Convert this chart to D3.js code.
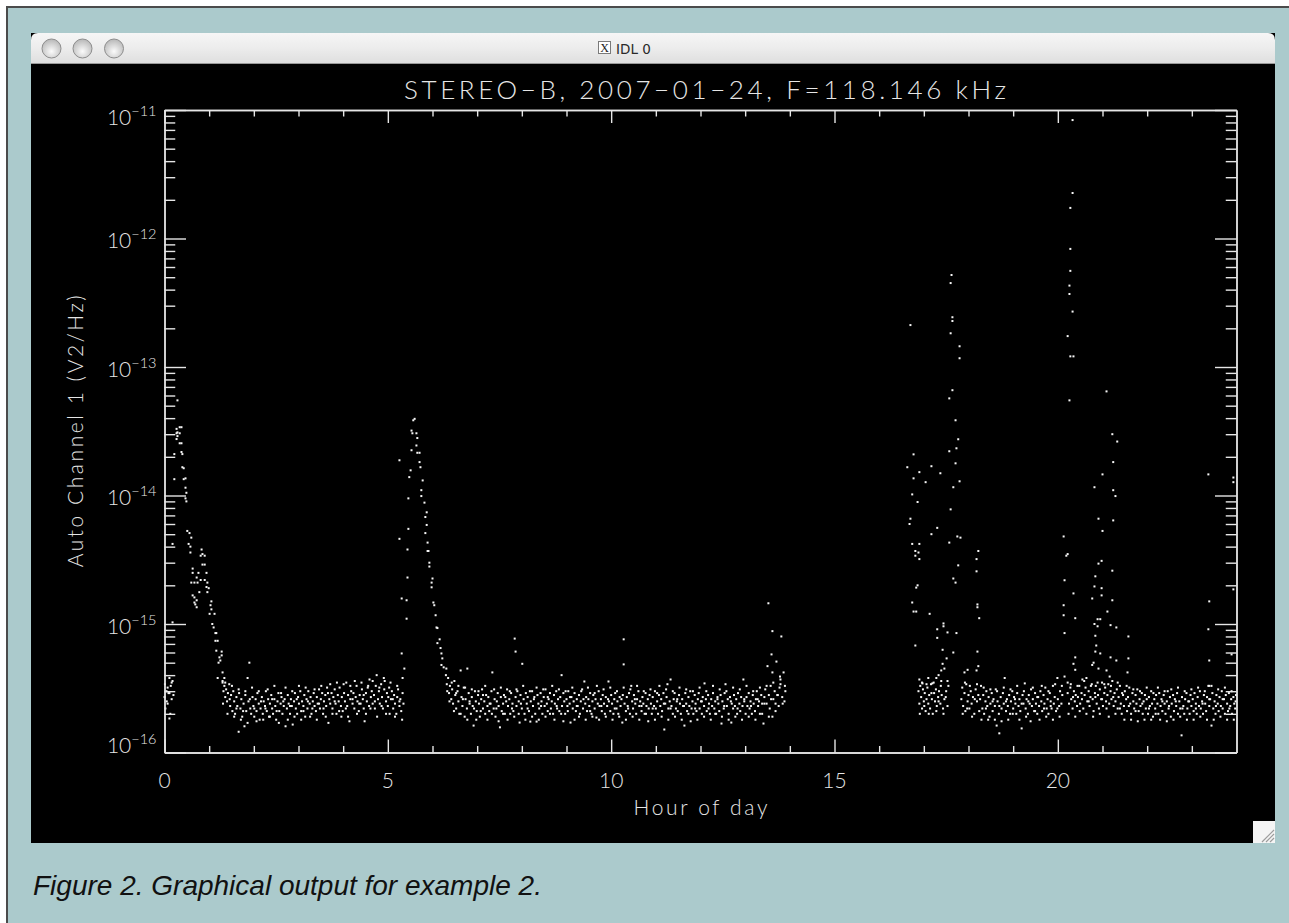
<!DOCTYPE html>
<html>
<head>
<meta charset="utf-8">
<script src="https://cdn.jsdelivr.net/npm/d3@7"></script>
<style>
  body { margin: 0; background: #fff; }
  svg { display: block; }
</style>
</head>
<body>
<svg id="page" width="1289" height="923"></svg>
<script>
// values are [hour of day, auto channel 1] with the power in units of 1e-16 V2/Hz
const UNIT = 1e-16;

const quiet0 = [[0,2.7],[0.01,3.4],[0.02,2.2],[0.045,3.0],[0.05,2.5],[0.07,3.2],[0.07,2.4],[0.09,2.9],[0.11,3.8],[0.11,2.9],
  [0.11,1.84],[0.13,2.0],[0.14,3.3],[0.16,3.5],[0.16,2.6],[0.18,3.6],[0.2,2.8]];

const decay0 = [[0.18,42],[0.18,10.3],[0.22,210],[0.22,134],[0.27,330],[0.27,305],[0.27,275],[0.29,310],[0.29,290],[0.29,550],
  [0.34,340],[0.34,305],[0.34,255],[0.38,340],[0.38,255],[0.38,218],[0.40,210],[0.40,166],[0.43,163],[0.43,134],
  [0.47,136],[0.47,115],[0.49,105],[0.47,95],[0.49,90],[0.51,53],[0.56,51],[0.60,47],[0.54,42],[0.58,40],
  [0.58,36],[0.83,38],[0.85,35],[0.81,34],[0.90,34],[0.85,29],[0.90,29],[0.63,27],[0.63,25],[0.76,25],
  [0.94,25],[0.72,23],[0.81,22],[0.90,22],[0.60,21],[0.67,21],[0.96,21],[0.74,21],[0.94,19.4],[0.99,19],
  [0.78,17.7],[0.96,17.7],[0.63,16.7],[0.67,16.1],[0.72,15.3],[0.67,14.7],[0.69,14.2],[0.72,13.5],[1.05,15],[1.03,14],
  [1.05,13],[1.01,12],[1.12,12],[1.07,10],[1.10,9.4],[1.14,8.5],[1.16,8.5],[1.14,7.4],[1.19,7.4],[1.16,6.2],
  [1.28,6.1],[1.23,5.5],[1.28,5.7],[1.21,5.0],[1.25,5.2],[1.19,3.8],[1.30,4.2],[1.34,3.8],[1.30,3.5]];

const quiet1 = [[1.30,3.6],[1.32,3.0],[1.34,3.3],[1.36,2.7],[1.38,3.1],[1.40,2.5],[1.42,2.9],[1.45,3.4],[1.47,2.3],[1.49,2.8],
  [1.52,2.1],[1.54,3.0],[1.56,2.5],[1.58,2.0],[1.61,2.7],[1.63,2.3],[1.66,1.45],[1.67,2.9],[1.70,2.2],[1.72,2.6],
  [1.74,1.9],[1.77,2.4],[1.79,1.6],[1.81,2.8],[1.83,2.1],[1.86,3.8],[1.88,2.5],[1.90,5.0],[1.92,2.2],[1.94,2.0],
  [1.97,2.7],[1.99,2.3],[2.01,1.9],[2.04,2.6],[2.06,2.1],[2.08,2.9],[2.11,2.4],[2.13,1.8],[2.15,2.2],[2.18,2.7],
  [2.20,2.0],[2.22,2.5],[2.25,2.3],[2.27,3.0],[2.29,2.1],[2.32,2.6],[2.34,1.9],[2.36,2.4],[2.39,2.8],[2.41,2.2],
  [2.43,2.0],[2.46,2.6],[2.48,2.3],[2.50,1.8],[2.53,2.5],[2.55,2.9],[2.57,2.1],[2.60,2.4],[2.62,2.7],[2.64,2.0],
  [2.67,2.3],[2.69,2.6],[2.71,1.6],[2.74,2.2],[2.76,2.8],[2.78,2.4],[2.81,2.0],[2.83,2.6],[2.85,2.3],[2.87,1.65],
  [2.90,2.5],[2.92,2.9],[2.94,2.2],[2.97,2.0],[2.99,2.7],[3.01,2.4],[3.04,3.0],[3.06,2.1],[3.08,2.5],[3.11,2.3],
  [3.13,2.8],[3.15,1.9],[3.18,2.6],[3.20,2.2],[3.22,3.0],[3.25,2.4],[3.27,2.7],[3.29,2.0],[3.32,2.5],[3.34,2.9],
  [3.36,2.3],[3.39,2.1],[3.41,2.7],[3.43,2.4],[3.46,3.1],[3.48,2.2],[3.50,2.6],[3.53,2.9],[3.55,2.0],[3.57,2.5],
  [3.60,2.8],[3.62,2.3],[3.64,3.2],[3.67,1.7],[3.69,2.6],[3.71,2.4],[3.74,2.9],[3.76,2.2],[3.78,2.7],[3.81,3.1],
  [3.83,2.4],[3.85,2.0],[3.88,2.8],[3.90,2.5],[3.92,3.2],[3.95,2.3],[3.97,2.7],[3.99,2.1],[4.02,2.9],[4.04,2.5],
  [4.07,3.5],[4.09,2.3],[4.11,2.8],[4.14,1.75],[4.16,2.6],[4.18,3.0],[4.21,2.4],[4.23,2.9],[4.25,2.2],[4.28,2.7],
  [4.30,3.3],[4.32,2.5],[4.35,2.1],[4.37,2.8],[4.39,2.4],[4.42,3.1],[4.44,2.6],[4.46,2.2],[4.48,1.75],[4.51,2.9],
  [4.53,2.5],[4.55,3.2],[4.58,2.3],[4.59,3.7],[4.62,2.7],[4.64,3.0],[4.66,2.4],[4.69,2.8],[4.71,2.2],[4.73,3.3],
  [4.75,4.0],[4.78,2.6],[4.80,3.0],[4.82,2.4],[4.85,3.4],[4.87,2.7],[4.89,2.2],[4.92,3.1],[4.93,3.6],[4.96,2.5],
  [4.98,2.9],[5.00,2.3],[5.03,3.2],[5.04,2.0],[5.07,2.6],[5.09,3.0],[5.12,2.2],[5.14,2.8],[5.16,2.4],[5.19,2.0],
  [5.21,2.7],[5.23,3.1],[5.26,2.3],[5.28,2.6],[5.30,2.1],[5.33,2.9],[5.35,2.4],
  [1.31,2.4],[1.36,3.5],[1.41,2.0],[1.46,2.6],[1.51,3.3],[1.56,1.9],[1.61,2.2],[1.66,3.1],[1.71,1.8],[1.76,2.1],
  [1.81,3.0],[1.86,1.7],[1.91,2.6],[1.96,3.2],[2.01,2.2],[2.06,1.75],[2.11,3.0],[2.16,2.5],[2.21,1.8],[2.26,2.2],
  [2.31,3.1],[2.36,1.9],[2.41,2.6],[2.46,3.3],[2.51,2.1],[2.56,1.7],[2.61,2.9],[2.66,2.5],[2.71,3.2],[2.76,1.8],
  [2.81,2.3],[2.86,3.0],[2.91,1.9],[2.96,2.6],[3.01,3.3],[3.06,1.8],[3.11,2.1],[3.16,3.2],[3.21,2.5],[3.26,1.9],
  [3.31,2.2],[3.36,3.1],[3.41,1.8],[3.46,2.4],[3.51,3.3],[3.56,2.2],[3.61,1.9],[3.66,2.9],[3.71,3.4],[3.76,2.0],
  [3.81,2.5],[3.86,3.5],[3.91,2.1],[3.96,1.9],[4.01,3.4],[4.06,2.2],[4.11,1.9],[4.16,3.3],[4.21,2.6],[4.26,3.6],
  [4.31,2.0],[4.36,2.4],[4.41,3.5],[4.46,2.8],[4.51,2.0],[4.56,3.3],[4.61,2.2],[4.66,3.6],[4.71,2.5],[4.76,1.9],
  [4.81,3.2],[4.86,2.3],[4.91,3.8],[4.96,2.0],[5.01,2.7],[5.06,3.5],[5.11,2.6],[5.16,1.9],[5.21,3.3],[5.26,2.5],[5.32,1.8]];

const burst2 = [[5.26,188],[5.26,46],[5.31,15.8],[5.31,5.9],[5.37,4.5],[5.33,3.8],[5.42,11],[5.42,15.3],[5.44,23],[5.44,38],
  [5.46,55],[5.46,95],[5.48,139],[5.51,157],[5.53,225],[5.53,320],[5.57,385],[5.60,395],[5.55,305],[5.64,305],
  [5.66,280],[5.64,245],[5.66,215],[5.71,215],[5.71,182],[5.73,166],[5.78,131],[5.75,110],[5.75,99],[5.82,88],
  [5.87,74],[5.84,68],[5.87,59],[5.84,51],[5.89,43],[5.89,37],[5.91,37],[5.93,30],[5.93,28],[6.00,22.6],
  [5.98,21],[5.98,19.3],[6.02,14.7],[6.04,14],[6.07,11.7],[6.09,9.4],[6.11,9.3],[6.16,7.6],[6.11,7.1],[6.18,6.5],
  [6.20,5.9],[6.22,5.4],[6.20,4.8],[6.25,4.6],[6.31,4.5]];

const quiet2 = [[6.30,4.0],[6.32,3.4],[6.35,3.8],[6.37,2.9],[6.39,3.3],[6.42,2.6],[6.44,3.1],[6.46,2.4],[6.49,3.6],[6.51,2.8],
  [6.53,2.2],[6.56,3.0],[6.58,2.5],[6.60,2.0],[6.63,4.35],[6.65,2.7],[6.67,2.3],[6.70,3.2],[6.72,1.9],[6.74,2.6],
  [6.77,2.2],[6.78,4.5],[6.81,2.9],[6.83,2.4],[6.86,2.0],[6.88,2.7],[6.90,2.3],[6.92,1.62],[6.95,3.0],[6.97,2.5],
  [6.99,2.1],[7.02,2.8],[7.04,2.4],[7.06,1.9],[7.09,2.6],[7.11,3.1],[7.13,2.2],[7.16,2.5],[7.18,2.0],[7.20,2.8],
  [7.23,2.3],[7.25,2.7],[7.27,2.1],[7.30,2.4],[7.32,3.0],[7.34,4.2],[7.37,2.2],[7.39,2.6],[7.41,1.9],[7.44,2.5],
  [7.46,2.9],[7.48,2.3],[7.51,1.57],[7.53,2.7],[7.55,2.1],[7.58,2.4],[7.60,2.8],[7.62,2.0],[7.65,2.5],[7.67,3.1],
  [7.69,2.3],[7.72,2.6],[7.74,2.0],[7.76,2.9],[7.79,2.4],[7.81,2.1],[7.84,7.7],[7.86,6.1],[7.86,2.7],[7.88,2.3],
  [7.90,3.0],[7.93,2.5],[7.95,1.71],[7.97,2.8],[8.00,2.2],[8.01,4.9],[8.04,2.6],[8.06,2.0],[8.09,2.9],[8.11,2.4],
  [8.13,2.7],[8.16,2.1],[8.19,1.74],[8.20,2.5],[8.23,3.0],[8.25,2.3],[8.27,2.6],[8.30,2.0],[8.33,1.74],[8.35,2.8],
  [8.37,2.4],[8.39,2.2],[8.42,2.9],[8.44,2.5],[8.46,2.0],[8.49,2.7],[8.51,2.3],[8.53,3.1],[8.56,2.4],[8.58,2.1],
  [8.60,2.6],[8.63,2.9],[8.65,2.2],[8.67,2.5],[8.70,2.0],[8.72,2.8],[8.74,2.4],[8.77,3.0],[8.79,2.2],[8.81,2.6],
  [8.84,2.1],[8.86,2.7],[8.89,4.0],[8.90,2.3],[8.93,2.9],[8.95,2.5],[8.97,2.0],[9.00,2.6],[9.02,2.3],[9.04,3.0],
  [9.07,2.4],[9.09,1.71],[9.11,2.7],[9.14,2.2],[9.16,2.5],[9.18,2.9],[9.21,2.1],[9.23,2.6],[9.25,2.3],[9.28,2.8],
  [9.30,2.0],[9.32,2.5],[9.35,3.1],[9.37,2.2],[9.40,3.57],[9.42,2.4],[9.44,2.7],[9.46,2.1],[9.49,2.6],[9.51,2.3],
  [9.53,2.9],[9.56,2.0],[9.58,2.5],[9.60,2.8],[9.63,2.2],[9.65,2.6],[9.67,1.87],[9.70,2.4],[9.72,3.0],[9.74,2.3],
  [9.77,2.6],[9.79,2.1],[9.81,2.8],[9.84,2.4],[9.86,2.0],[9.88,2.7],[9.91,2.3],[9.94,3.57],[9.95,2.5],[9.98,2.1],
  [10.00,2.8],[10.02,2.4],[10.05,2.0],[10.07,2.6],[10.09,2.9],[10.12,2.2],[10.14,2.5],[10.16,2.0],[10.19,2.7],[10.21,2.3],
  [10.25,1.71],[10.26,2.8],[10.28,7.6],[10.28,4.85],[10.30,2.4],[10.33,2.1],[10.35,2.7],[10.37,2.3],[10.40,2.9],[10.42,2.0],
  [10.45,3.3],[10.47,2.5],[10.49,2.2],[10.51,2.8],[10.54,2.4],[10.56,2.0],[10.58,2.6],[10.61,3.0],[10.63,2.3],[10.65,2.5],
  [10.68,2.1],[10.70,2.7],[10.72,2.4],[10.75,2.0],[10.77,2.9],[10.79,2.3],[10.82,2.6],[10.84,2.2],[10.86,2.8],[10.89,2.4],
  [10.91,2.0],[10.93,2.7],[10.96,2.3],[10.98,3.0],[11.00,2.2],[11.03,2.5],[11.05,2.0],[11.07,2.8],[11.10,2.3],[11.12,2.6],
  [11.14,2.1],[11.17,2.9],[11.19,1.51],[11.21,2.4],[11.24,2.7],[11.26,3.4],[11.28,2.2],[11.31,2.5],[11.33,3.7],[11.35,2.3],
  [11.38,2.0],[11.40,2.6],[11.42,2.9],[11.45,2.2],[11.47,2.5],[11.49,2.1],[11.52,2.8],[11.54,2.4],[11.56,2.0],[11.59,2.6],
  [11.61,2.3],[11.64,1.62],[11.66,2.9],[11.68,2.4],[11.70,2.1],[11.73,2.7],[11.75,2.3],[11.77,3.0],[11.80,2.2],[11.82,2.5],
  [11.84,2.0],[11.87,2.8],[11.89,2.4],[11.91,2.1],[11.94,2.6],[11.96,2.9],[11.98,2.2],[12.01,2.5],[12.03,2.0],[12.05,2.7],
  [12.08,2.3],[12.09,3.45],[12.12,2.6],[12.14,2.1],[12.17,2.8],[12.19,2.4],[12.21,2.0],[12.24,2.6],[12.26,2.3],[12.28,2.9],
  [12.31,2.2],[12.33,2.5],[12.35,2.0],[12.38,2.7],[12.40,2.4],[12.42,2.1],[12.45,2.8],[12.47,1.68],[12.49,2.5],[12.52,2.2],
  [12.54,2.9],[12.56,3.4],[12.59,2.3],[12.61,2.6],[12.63,2.0],[12.66,2.7],[12.69,1.71],[12.70,2.4],[12.73,2.2],[12.75,2.8],
  [12.77,2.3],[12.80,2.6],[12.82,2.0],[12.84,2.9],[12.87,2.4],[12.89,2.1],[12.91,2.7],[12.94,2.3],[12.96,3.7],[12.98,2.5],
  [13.01,2.0],[13.03,2.7],[13.05,2.3],[13.08,2.9],[13.10,2.2],[13.12,2.5],[13.15,2.0],[13.17,2.8],[13.19,2.4],[13.22,2.1],
  [13.24,2.6],[13.26,3.0],[13.29,2.3],[13.31,2.5],[13.33,2.0],[13.36,2.8],[13.38,2.4],[13.41,1.68],[13.43,2.7],[13.45,3.1],
  [13.48,2.4],[13.50,4.7],[13.52,14.5],[13.53,2.8],[13.55,2.2],[13.57,3.3],[13.59,5.8],[13.61,8.8],[13.61,4.2],[13.61,1.9],
  [13.63,2.6],[13.66,3.0],[13.68,2.4],[13.70,5.1],[13.72,2.8],[13.75,2.3],[13.77,3.2],[13.79,3.7],[13.79,3.4],[13.81,8.0],
  [13.83,2.7],[13.86,4.2],[13.88,2.5],[13.90,3.0],
  [6.33,3.0],[6.38,2.5],[6.43,3.5],[6.48,2.1],[6.53,2.9],[6.58,3.3],[6.63,2.0],[6.68,2.6],[6.73,3.2],[6.78,1.8],
  [6.83,2.5],[6.88,3.1],[6.93,2.2],[6.98,1.8],[7.03,3.0],[7.08,2.1],[7.13,2.8],[7.18,3.3],[7.23,1.8],[7.28,2.4],
  [7.33,2.0],[7.38,3.1],[7.43,2.2],[7.48,1.75],[7.53,3.2],[7.58,2.0],[7.63,2.7],[7.68,1.8],[7.73,3.0],[7.78,2.2],
  [7.83,1.9],[7.88,3.1],[7.93,2.0],[7.98,2.4],[8.03,3.3],[8.08,1.8],[8.13,2.2],[8.18,3.0],[8.23,1.9],[8.28,2.7],
  [8.33,3.2],[8.38,1.8],[8.43,2.3],[8.48,3.1],[8.53,1.9],[8.58,2.7],[8.63,2.0],[8.68,3.3],[8.73,1.8],[8.78,2.3],
  [8.83,3.1],[8.88,2.0],[8.93,1.75],[8.98,3.0],[9.03,2.1],[9.08,2.7],[9.13,3.2],[9.18,1.8],[9.23,2.3],[9.28,1.9],
  [9.33,3.0],[9.38,2.6],[9.43,1.8],[9.48,3.2],[9.53,2.1],[9.58,1.9],[9.63,2.9],[9.68,3.3],[9.73,1.8],[9.78,2.3],
  [9.83,3.1],[9.88,1.9],[9.93,2.6],[9.98,3.2],[10.03,1.8],[10.08,2.2],[10.13,3.0],[10.18,1.9],[10.23,2.6],[10.28,3.2],
  [10.33,1.8],[10.38,2.2],[10.43,3.1],[10.48,1.9],[10.53,2.6],[10.58,3.3],[10.63,1.8],[10.68,2.3],[10.73,3.0],[10.78,2.0],
  [10.83,1.75],[10.88,3.1],[10.93,2.2],[10.98,1.8],[11.03,2.9],[11.08,3.3],[11.13,1.9],[11.18,2.4],[11.23,3.1],[11.28,1.8],
  [11.33,2.2],[11.38,3.0],[11.43,1.9],[11.48,2.6],[11.53,3.2],[11.58,1.8],[11.63,2.3],[11.68,3.1],[11.73,2.0],[11.78,1.75],
  [11.83,3.0],[11.88,2.2],[11.93,1.8],[11.98,3.2],[12.03,2.5],[12.08,1.9],[12.13,3.0],[12.18,2.2],[12.23,1.8],[12.28,3.3],
  [12.33,2.0],[12.38,2.6],[12.43,3.1],[12.48,1.9],[12.53,2.3],[12.58,3.0],[12.63,1.8],[12.68,2.5],[12.73,3.2],[12.78,1.9],
  [12.83,2.2],[12.88,3.1],[12.93,1.8],[12.98,2.6],[13.03,3.3],[13.08,1.9],[13.13,2.3],[13.18,3.0],[13.23,1.8],[13.28,2.6],
  [13.33,3.2],[13.38,2.0],[13.43,2.4],[13.48,3.3],[13.53,1.9],[13.58,2.6],[13.63,3.5],[13.68,2.1],[13.73,2.8],[13.78,3.9],
  [13.84,2.4],[13.89,3.3]];

const burst3 = [[16.70,2120],[16.63,166],[16.77,209],[16.77,136],[16.90,152],[17.04,127],[17.17,169],[17.37,149],[16.74,102],[16.86,89],
  [16.70,66],[16.68,60],[16.74,42],[16.90,42],[16.81,37],[16.88,36],[16.81,34],[16.90,32],[17.30,56],[17.17,50],
  [16.86,20],[16.83,19.2],[16.74,14.7],[16.77,12.5],[16.83,12.5],[17.13,12],[16.81,6.8],[17.44,10.1],[17.44,9.6],[17.30,9.1],
  [17.53,8.6],[17.30,7.8],[17.42,6.3],[17.51,5.4],[17.42,4.9],[17.39,4.35],[17.46,4.5],[17.33,4.0],[17.28,3.8],[16.90,3.7],
  [17.10,3.8],[17.39,3.6],[17.53,3.6],[16.97,3.45],[17.19,3.45],
  [16.88,3.0],[16.90,2.4],[16.92,3.3],[16.94,2.7],[16.96,2.2],[16.98,3.1],[17.00,2.5],[17.02,2.9],[17.04,2.1],[17.06,2.6],
  [17.08,3.2],[17.10,2.4],[17.12,2.8],[17.14,2.2],[17.16,3.4],[17.18,2.6],[17.20,2.0],[17.23,2.9],[17.25,2.5],[17.27,3.1],
  [17.29,2.3],[17.32,2.7],[17.34,3.0],[17.37,2.4],[17.40,2.8],[17.43,2.2],[17.46,2.6],[17.50,3.0],[17.53,2.3],
  [16.91,2.0],[16.96,3.5],[17.01,2.3],[17.06,3.4],[17.11,2.0],[17.17,2.9],[17.22,3.5],[17.28,2.1],[17.33,2.5],[17.38,3.3],
  [17.44,2.0],[17.49,2.7],[17.55,3.3],
  [17.62,5200],[17.60,4500],[17.64,2440],[17.64,2280],[17.60,1830],[17.80,1450],[17.80,1170],[17.64,660],[17.57,570],[17.71,385],
  [17.77,274],[17.73,233],[17.57,221],[17.71,178],[17.80,129],[17.66,116],[17.60,78],[17.75,48],[17.82,47],[17.57,43],
  [17.77,28.6],[17.66,22.6],[17.71,21],[17.73,8.5],[17.66,6.0],
  [18.22,37],[18.18,32],[18.18,25.7],[18.20,14.2],[18.20,13.5],[18.24,11.1],[18.20,6.1],[18.22,4.7],[18.18,4.35],[17.98,4.4],
  [17.91,4.2]];

const quiet3 = [[17.84,2.6],[17.86,3.2],[17.88,2.3],[17.91,2.9],[17.93,2.1],[17.95,3.4],[17.98,2.5],[18.00,2.8],[18.02,2.2],[18.05,3.0],
  [18.07,2.4],[18.10,2.7],[18.13,2.0],[18.16,3.1],[18.19,2.5],[18.22,2.8],
  [18.26,2.6],[18.28,3.3],[18.31,2.2],[18.33,2.8],[18.35,2.0],[18.38,2.5],[18.40,3.0],[18.42,2.3],[18.45,2.7],[18.47,1.9],
  [18.49,2.4],[18.52,2.9],[18.54,2.1],[18.56,2.6],[18.59,2.3],[18.61,3.1],[18.63,1.62],[18.65,2.5],[18.68,2.0],[18.69,1.41],
  [18.72,2.7],[18.74,2.2],[18.77,2.9],[18.79,2.4],[18.81,3.8],[18.84,2.1],[18.86,2.6],[18.88,2.3],[18.91,2.8],[18.93,2.0],
  [18.95,2.5],[18.98,3.0],[19.00,2.2],[19.02,2.7],[19.05,2.4],[19.07,2.0],[19.09,2.9],[19.12,2.3],[19.14,2.6],[19.16,2.1],
  [19.19,1.54],[19.21,2.8],[19.23,2.4],[19.26,3.45],[19.28,2.2],[19.30,2.6],[19.33,2.0],[19.35,2.8],[19.37,2.4],[19.40,3.1],
  [19.42,2.3],[19.44,2.6],[19.47,2.1],[19.49,2.9],[19.51,2.4],[19.54,2.0],[19.56,2.7],[19.58,2.3],[19.61,3.0],[19.63,2.5],
  [19.65,2.1],[19.68,2.8],[19.70,2.4],[19.72,3.2],[19.75,2.2],[19.77,2.6],[19.79,2.0],[19.82,2.9],[19.84,2.5],[19.86,2.2],
  [19.89,3.3],[19.91,2.4],[19.93,2.7],[19.96,2.1],[19.99,3.8],[20.00,2.6],[20.03,2.3],[20.05,3.0],[20.08,2.4],[20.10,2.8],
  [17.87,2.0],[17.92,3.5],[17.97,2.2],[18.03,3.3],[18.08,1.9],[18.14,2.6],[18.19,3.4],[18.24,2.1],
  [18.29,1.8],[18.34,3.2],[18.39,2.2],[18.44,1.8],[18.49,3.1],[18.54,2.5],[18.59,1.8],[18.64,3.0],[18.69,2.3],[18.74,1.75],
  [18.79,3.2],[18.84,2.5],[18.89,1.8],[18.94,3.1],[18.99,2.0],[19.04,2.6],[19.09,3.3],[19.14,1.8],[19.19,2.4],[19.24,3.0],
  [19.29,1.9],[19.34,2.5],[19.39,1.75],[19.44,3.2],[19.49,2.1],[19.54,2.7],[19.59,1.8],[19.64,3.3],[19.69,2.2],[19.74,1.9],
  [19.79,3.0],[19.84,2.3],[19.89,1.8],[19.94,3.4],[19.99,2.2],[20.04,1.9],[20.09,3.3]];

const burst4 = [[20.33,83500],[20.33,22600],[20.28,17300],[20.28,8300],[20.28,5600],[20.26,4300],[20.26,3700],[20.33,2700],[20.22,1740],[20.28,1210],
  [20.35,1210],[20.26,550],[20.13,48],[20.22,35],[20.19,34],[20.15,21.9],[20.35,17.3],[20.13,14],[20.13,11.7],[20.39,11.1],
  [20.15,8.5],[20.39,5.5],[20.35,4.9],[20.39,4.4],[20.15,3.9],[20.22,3.5],
  [21.09,646],[21.22,300],[21.33,263],[21.24,182],[21.00,146],[20.82,116],[21.24,110],[21.29,99],[20.91,66],[21.24,64],
  [21.00,53],[20.98,31],[20.91,29.5],[21.22,26],[20.84,23.5],[20.82,19.6],[20.98,19],[20.98,16.7],[20.77,15.8],[21.22,15.3],
  [21.11,12.5],[20.89,10.9],[20.95,10.9],[21.18,9.8],[20.82,10],[20.89,9.6],[21.31,9.4],[20.84,8.1],[21.58,8.0],[20.86,6.8],
  [20.84,6.1],[20.95,5.9],[21.18,5.5],[21.31,5.2],[21.58,5.4],[20.80,5.0],[20.77,4.8],[20.91,4.5],[21.09,4.35],[21.56,4.2],
  [21.16,3.9],[20.64,3.8],[20.55,3.7],
  [23.37,146],[23.93,138],[23.93,127],[23.93,18.6],[23.39,15],[23.37,9.1],[23.89,5.8],[23.39,5.2],[23.39,3.3]];

const quiet4 = [[20.22,2.9],[20.25,2.4],[20.28,3.2],[20.30,2.6],[20.33,2.2],[20.36,3.0],[20.38,2.5],[20.40,2.8],[20.43,2.3],
  [20.45,2.7],[20.48,3.3],[20.50,2.4],[20.53,2.9],[20.57,2.2],[20.60,2.8],[20.62,3.2],[20.66,2.5],
  [20.69,3.0],[20.71,2.3],[20.73,2.7],[20.76,3.4],[20.78,2.6],[20.80,2.1],[20.83,2.9],[20.85,3.3],[20.87,2.4],[20.90,2.8],
  [20.92,2.2],[20.94,3.1],[20.97,2.6],[20.99,3.5],[21.01,2.3],[21.04,2.9],[21.06,3.2],[21.08,2.5],[21.11,2.8],[21.13,3.4],
  [21.15,2.4],[21.18,3.0],[21.20,2.6],[21.22,3.6],[21.25,2.3],[21.27,2.9],[21.29,2.5],[21.32,3.1],[21.34,2.2],[21.36,2.7],
  [21.39,3.3],[21.41,2.4],[21.43,2.0],[21.46,2.8],[21.48,2.3],[21.50,3.0],[21.53,2.6],[21.55,2.1],[21.57,2.7],[21.60,3.2],
  [21.62,2.4],[21.64,2.0],[21.67,2.9],[21.69,2.5],[21.71,2.2],[21.74,2.8],[21.76,2.4],[21.78,3.1],[21.81,2.1],[21.83,2.6],
  [21.85,2.3],[21.88,2.9],[21.90,2.0],[21.92,2.5],[21.95,2.8],[21.97,2.2],[21.99,2.6],[22.02,2.0],[22.04,2.7],[22.06,2.3],
  [22.09,3.0],[22.11,2.4],[22.13,1.9],[22.16,2.6],[22.18,2.2],[22.20,2.8],[22.23,2.4],[22.25,2.0],[22.27,2.9],[22.30,2.3],
  [22.32,2.6],[22.34,2.1],[22.37,2.8],[22.39,2.4],[22.41,2.0],[22.44,2.5],[22.46,3.0],[22.48,2.2],[22.51,2.7],[22.53,1.9],
  [22.55,2.4],[22.58,2.8],[22.60,2.1],[22.62,2.6],[22.65,2.3],[22.67,2.9],[22.69,2.0],[22.72,2.5],[22.74,2.2],[22.77,1.36],
  [22.78,2.7],[22.81,2.3],[22.83,2.0],[22.85,2.6],[22.88,2.9],[22.90,2.2],[22.92,2.5],[22.95,2.0],[22.97,2.8],[22.99,2.3],
  [23.02,2.6],[23.04,2.1],[23.06,2.9],[23.09,2.4],[23.11,2.0],[23.13,2.7],[23.16,2.3],[23.18,3.0],[23.20,2.2],[23.23,2.5],
  [23.25,2.0],[23.27,2.8],[23.30,2.4],[23.32,2.1],[23.34,2.7],[23.37,3.3],[23.39,2.3],[23.41,2.6],[23.44,1.62],[23.46,2.9],
  [23.48,2.2],[23.51,2.5],[23.53,2.0],[23.55,2.8],[23.58,2.4],[23.60,2.1],[23.62,2.7],[23.65,2.3],[23.67,3.0],[23.69,2.2],
  [23.72,2.6],[23.74,2.0],[23.76,2.8],[23.79,2.4],[23.81,2.1],[23.83,2.9],[23.86,2.3],[23.88,2.6],[23.90,2.0],[23.93,2.7],
  [23.95,2.4],[23.97,2.2],[23.99,2.8],
  [20.24,2.0],[20.29,3.4],[20.34,2.7],[20.39,1.9],[20.44,3.3],[20.49,2.1],[20.54,2.6],[20.59,3.6],[20.64,2.0],[20.69,2.5],
  [20.74,3.3],[20.79,1.9],[20.84,2.7],[20.89,3.5],[20.94,2.0],[20.99,2.6],[21.04,3.4],[21.09,2.2],[21.14,1.9],[21.19,3.3],
  [21.24,2.7],[21.29,2.0],[21.34,3.5],[21.39,2.2],[21.44,2.9],[21.49,1.8],[21.54,3.3],[21.59,2.3],[21.64,1.8],[21.69,3.1],
  [21.74,2.1],[21.79,1.75],[21.84,3.0],[21.89,2.4],[21.94,1.8],[21.99,3.2],[22.04,2.2],[22.09,1.8],[22.14,2.9],[22.19,2.0],
  [22.24,3.2],[22.29,1.8],[22.34,2.5],[22.39,3.0],[22.44,1.75],[22.49,2.3],[22.54,3.1],[22.59,1.8],[22.64,2.5],[22.69,3.2],
  [22.74,1.9],[22.79,2.2],[22.84,3.0],[22.89,1.8],[22.94,2.5],[22.99,3.1],[23.04,1.8],[23.09,2.2],[23.14,3.2],[23.19,1.9],
  [23.24,2.4],[23.29,3.0],[23.34,1.8],[23.39,2.6],[23.44,3.3],[23.49,1.8],[23.54,2.3],[23.59,3.1],[23.64,1.9],[23.69,2.6],
  [23.74,3.2],[23.79,1.8],[23.84,2.2],[23.89,3.0],[23.94,1.8],[23.98,2.5]];

// axis ticks
const xMajor = [0, 5, 10, 15, 20];
const xMinor = [1, 2, 3, 4, 6, 7, 8, 9, 11, 12, 13, 14, 16, 17, 18, 19, 21, 22, 23];
const yDecades = [-16, -15, -14, -13, -12, -11];

const titleText = "STEREO\u2212B, 2007\u221201\u221224, F=118.146 kHz";
const xTitle = "Hour of day";
const yTitle = "Auto Channel 1 (V2/Hz)";
const caption = "Figure 2. Graphical output for example 2.";

const W = 1289, H = 923;
const svg = d3.select("#page");
const defs = svg.append("defs");

// ---- page and frame ----
svg.append("rect").attr("width", W).attr("height", H).attr("fill", "#fff");
svg.append("rect").attr("x", 6).attr("y", 6).attr("width", W - 6).attr("height", H - 6).attr("fill", "#4b4b4b");
svg.append("rect").attr("x", 8).attr("y", 8).attr("width", W - 8).attr("height", H - 8).attr("fill", "#abcacc");

// ---- X11 window ----
const win = { x: 31, y: 33, w: 1244, h: 810, bar: 31 };
svg.append("rect").attr("x", win.x).attr("y", win.y).attr("width", win.w).attr("height", win.h).attr("fill", "#000");

const barGrad = defs.append("linearGradient").attr("id", "bar").attr("x1", 0).attr("y1", 0).attr("x2", 0).attr("y2", 1);
barGrad.append("stop").attr("offset", "0%").attr("stop-color", "#f6f6f6");
barGrad.append("stop").attr("offset", "50%").attr("stop-color", "#ececec");
barGrad.append("stop").attr("offset", "100%").attr("stop-color", "#dedede");

const r = 7;
svg.append("path")
  .attr("d", `M${win.x},${win.y + win.bar} V${win.y + r} Q${win.x},${win.y} ${win.x + r},${win.y} ` +
             `H${win.x + win.w - r} Q${win.x + win.w},${win.y} ${win.x + win.w},${win.y + r} V${win.y + win.bar} Z`)
  .attr("fill", "url(#bar)");
svg.append("line").attr("x1", win.x).attr("x2", win.x + win.w)
  .attr("y1", win.y + win.bar - 0.5).attr("y2", win.y + win.bar - 0.5)
  .attr("stroke", "#9a9a9a");

// window buttons (inactive, grey)
const btnGrad = defs.append("radialGradient").attr("id", "btn").attr("cx", "50%").attr("cy", "65%").attr("r", "60%");
btnGrad.append("stop").attr("offset", "0%").attr("stop-color", "#fbfbfb");
btnGrad.append("stop").attr("offset", "100%").attr("stop-color", "#bcbcbc");
[51.5, 82.5, 114].forEach(cx => {
  svg.append("circle").attr("cx", cx).attr("cy", 48.5).attr("r", 9.5)
    .attr("fill", "url(#btn)").attr("stroke", "#8d8d8d").attr("stroke-width", 1);
});

// window title with the X icon
svg.append("rect").attr("x", 598.5).attr("y", 41.5).attr("width", 12).attr("height", 12)
  .attr("fill", "#fff").attr("stroke", "#7a7a7a");
svg.append("text").attr("x", 604.5).attr("y", 52).attr("text-anchor", "middle")
  .attr("font-family", "Liberation Serif, serif").attr("font-size", 12).attr("fill", "#222").text("X");
svg.append("text").attr("x", 616).attr("y", 53.5)
  .attr("font-family", "DejaVu Sans, sans-serif").attr("font-size", 13.5).attr("fill", "#2a2a2a").text("IDL 0");

// resize grip
svg.append("rect").attr("x", 1253).attr("y", 821).attr("width", 22).attr("height", 22).attr("fill", "#f4f4f4");
[[1262, 842, 1274, 830], [1266, 842, 1274, 834], [1270, 842, 1274, 838]].forEach(l => {
  svg.append("line").attr("x1", l[0]).attr("y1", l[1]).attr("x2", l[2]).attr("y2", l[3])
    .attr("stroke", "#9c9c9c").attr("stroke-width", 1.2);
});

// caption under the window
svg.append("text").attr("x", 33).attr("y", 895)
  .attr("font-family", "Liberation Sans, Arial, sans-serif").attr("font-style", "italic")
  .attr("font-size", 28).attr("fill", "#111").text(caption);

// ---- the IDL plot ----
const plot = { left: 164.5, right: 1236.5, top: 110, bottom: 752.5 };
const ink = "#e6e6e6";
const font = "Lato, 'DejaVu Sans', sans-serif";

const x = d3.scaleLinear().domain([0, 24]).range([plot.left, plot.right]);
const y = d3.scaleLog().domain([1e-16, 1e-11]).range([plot.bottom, plot.top]);

const g = svg.append("g");

// data points
const allPoints = [].concat(quiet0, decay0, quiet1, burst2, quiet2, burst3, quiet3, burst4, quiet4);
g.append("g").selectAll("rect")
  .data(allPoints)
  .join("rect")
  .attr("x", d => x(d[0]) - 1)
  .attr("y", d => y(d[1] * UNIT) - 1)
  .attr("width", 2)
  .attr("height", 2)
  .attr("fill", "#f6f6f6");

// minor y ticks 2..9 in every decade
const yMinor = [];
yDecades.slice(0, -1).forEach(e => {
  for (let m = 2; m <= 9; m++) yMinor.push(m * Math.pow(10, e));
});
const yMajor = yDecades.map(e => Math.pow(10, e));

function drawAxis(axis, tx, ty) {
  const a = g.append("g").attr("transform", `translate(${tx},${ty})`).call(axis);
  a.selectAll("path, line").attr("stroke", ink).attr("stroke-width", 1.4);
  a.selectAll("text").remove();
  return a;
}
// IDL draws ticks inward on all four sides
const xLen = 13, yLen = 21.5;
drawAxis(d3.axisBottom(x).tickValues(xMajor).tickSize(-xLen).tickSizeOuter(0), 0, plot.bottom);
drawAxis(d3.axisBottom(x).tickValues(xMinor).tickSize(-xLen / 2).tickSizeOuter(0), 0, plot.bottom);
drawAxis(d3.axisTop(x).tickValues(xMajor).tickSize(-xLen).tickSizeOuter(0), 0, plot.top);
drawAxis(d3.axisTop(x).tickValues(xMinor).tickSize(-xLen / 2).tickSizeOuter(0), 0, plot.top);
drawAxis(d3.axisLeft(y).tickValues(yMajor).tickSize(-yLen).tickSizeOuter(0), plot.left, 0);
drawAxis(d3.axisLeft(y).tickValues(yMinor).tickSize(-yLen / 2).tickSizeOuter(0), plot.left, 0);
drawAxis(d3.axisRight(y).tickValues(yMajor).tickSize(-yLen).tickSizeOuter(0), plot.right, 0);
drawAxis(d3.axisRight(y).tickValues(yMinor).tickSize(-yLen / 2).tickSizeOuter(0), plot.right, 0);

// x tick labels
g.append("g").selectAll("text")
  .data(xMajor)
  .join("text")
  .attr("x", d => x(d))
  .attr("y", plot.bottom + 35)
  .attr("text-anchor", "middle")
  .attr("font-family", font).attr("font-weight", 300)
  .attr("font-size", 21).attr("fill", ink)
  .text(d => d);

// y tick labels 10^-n, kept inside the axis range like IDL does
const yLab = g.append("g").selectAll("text")
  .data(yDecades)
  .join("text")
  .attr("x", plot.left - 8)
  .attr("y", d => Math.min(Math.max(y(Math.pow(10, d)) + 9.5, plot.top + 15), plot.bottom + 0.5))
  .attr("text-anchor", "end")
  .attr("font-family", font).attr("font-weight", 300)
  .attr("fill", ink);
yLab.append("tspan").attr("font-size", 21).text("10");
yLab.append("tspan").attr("font-size", 14.5).attr("dy", -9).text(d => "\u2212" + Math.abs(d));

// titles
g.append("text")
  .attr("x", 705).attr("y", 99)
  .attr("text-anchor", "middle")
  .attr("font-family", font).attr("font-weight", 300)
  .attr("font-size", 26).attr("fill", ink)
  .attr("textLength", 602).attr("lengthAdjust", "spacing")
  .text(titleText);

g.append("text")
  .attr("x", (plot.left + plot.right) / 2).attr("y", 815)
  .attr("text-anchor", "middle")
  .attr("font-family", font).attr("font-weight", 300)
  .attr("font-size", 21).attr("fill", ink)
  .attr("textLength", 134).attr("lengthAdjust", "spacing")
  .text(xTitle);

g.append("text")
  .attr("transform", `translate(83,${(plot.top + plot.bottom) / 2}) rotate(-90)`)
  .attr("text-anchor", "middle")
  .attr("font-family", font).attr("font-weight", 300)
  .attr("font-size", 21).attr("fill", ink)
  .attr("textLength", 272).attr("lengthAdjust", "spacing")
  .text(yTitle);
</script>
</body>
</html>
